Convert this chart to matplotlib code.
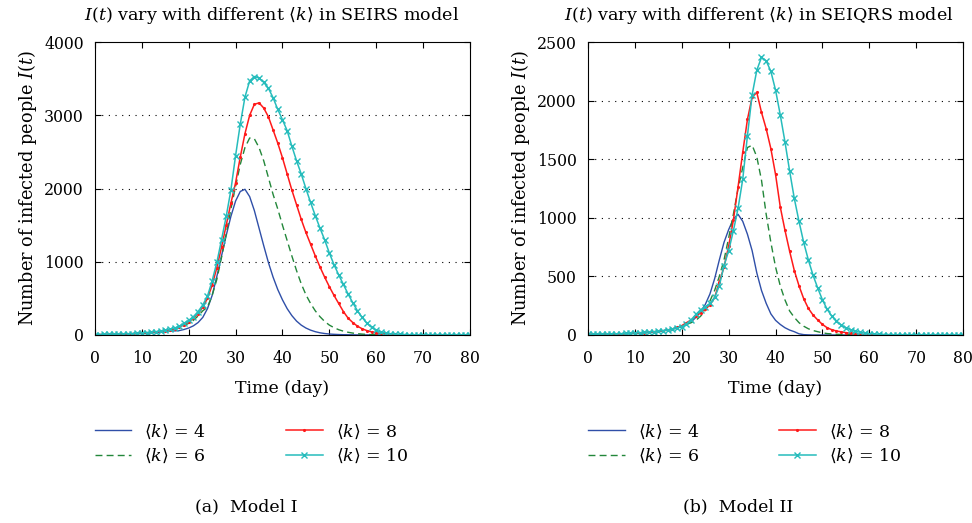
import matplotlib
matplotlib.use('Agg')
import matplotlib.pyplot as plt

plt.rcParams['font.family'] = ['DejaVu Serif']
plt.rcParams['mathtext.fontset'] = 'dejavuserif'

days = list(range(0, 81))

# Model I (SEIRS)
blue_l = [4, 5, 6, 7, 8, 10, 12, 14, 16, 19,
          22, 26, 30, 35, 40, 46, 52, 56, 60, 75,
          95, 125, 170, 240, 360, 540, 800, 1080, 1360, 1620,
          1830, 1960, 1990, 1890, 1700, 1460, 1220, 990, 790, 620,
          480, 360, 265, 190, 135, 95, 66, 45, 30, 20,
          13, 9, 6, 4, 3, 2, 1, 1, 1, 1,
          1, 1, 1, 1, 1, 1, 1, 1, 1, 1,
          0, 0, 0, 0, 0, 0, 0, 0, 0, 0,
          0]
green_l = [4, 5, 6, 7, 8, 10, 12, 14, 17, 20,
           24, 28, 33, 39, 46, 55, 66, 80, 100, 125,
           160, 200, 260, 330, 380, 540, 760, 1060, 1380, 1720,
           2030, 2330, 2560, 2690, 2680, 2560, 2380, 2150, 1920, 1720,
           1500, 1290, 1080, 880, 700, 550, 430, 330, 250, 185,
           135, 100, 72, 52, 37, 26, 18, 12, 8, 5,
           4, 3, 2, 2, 1, 1, 1, 1, 1, 1,
           1, 1, 0, 0, 0, 0, 0, 0, 0, 0,
           0]
red_l = [4, 5, 6, 8, 9, 11, 13, 15, 18, 21,
         25, 30, 35, 41, 49, 58, 70, 85, 110, 140,
         180, 230, 290, 380, 500, 680, 920, 1200, 1500, 1800,
         2080, 2430, 2750, 3000, 3150, 3170, 3100, 2980, 2800, 2620,
         2420, 2200, 1980, 1780, 1580, 1400, 1240, 1080, 930, 790,
         660, 540, 430, 320, 230, 170, 120, 85, 60, 42,
         30, 21, 15, 10, 7, 5, 3, 2, 2, 1,
         1, 1, 1, 1, 1, 0, 0, 0, 0, 0,
         0]
cyan_l = [5, 6, 7, 9, 10, 12, 14, 17, 20, 24,
          28, 33, 39, 45, 55, 65, 80, 95, 120, 160,
          200, 250, 320, 410, 530, 740, 990, 1300, 1620, 1980,
          2450, 2880, 3250, 3470, 3530, 3510, 3450, 3370, 3240, 3080,
          2940, 2790, 2580, 2380, 2200, 2000, 1810, 1630, 1460, 1300,
          1120, 960, 820, 690, 560, 440, 330, 240, 160, 105,
          65, 42, 27, 17, 11, 7, 5, 3, 2, 2,
          1, 1, 1, 1, 1, 1, 1, 1, 1, 1,
          1]

# Model II (SEIQRS)
blue_r = [4, 5, 5, 6, 7, 8, 9, 10, 12, 13,
          15, 17, 20, 23, 27, 31, 36, 42, 50, 60,
          70, 90, 112, 150, 200, 260, 350, 480, 640, 790,
          900, 990, 1030, 970, 860, 720, 530, 380, 270, 180,
          125, 90, 62, 42, 28, 10, 3, 1, 0, 0,
          0, 0, 0, 0, 0, 0, 0, 0, 0, 0,
          0, 0, 0, 0, 0, 0, 0, 0, 0, 0,
          0, 0, 0, 0, 0, 0, 0, 0, 0, 0,
          0]
green_r = [4, 5, 5, 6, 7, 8, 9, 10, 12, 13,
           15, 17, 20, 23, 27, 31, 36, 42, 50, 62,
           75, 90, 105, 125, 160, 210, 290, 380, 500, 640,
           830, 1030, 1250, 1430, 1600, 1620, 1520, 1321, 1030, 790,
           580, 420, 300, 205, 150, 105, 75, 53, 38, 28,
           19, 12, 9, 6, 4, 3, 2, 1, 1, 1,
           0, 0, 0, 0, 0, 0, 0, 0, 0, 0,
           0, 0, 0, 0, 0, 0, 0, 0, 0, 0,
           0]
red_r = [4, 5, 5, 6, 7, 8, 9, 10, 12, 13,
         15, 17, 20, 23, 27, 31, 36, 43, 52, 64,
         80, 105, 128, 160, 190, 220, 256, 320, 450, 580,
         760, 980, 1264, 1560, 1840, 2030, 2070, 1900, 1760, 1590,
         1370, 1094, 895, 715, 550, 420, 310, 227, 170, 128,
         90, 62, 45, 34, 27, 20, 14, 9, 6, 4,
         3, 2, 2, 1, 1, 1, 1, 1, 1, 1,
         0, 0, 0, 0, 0, 0, 0, 0, 0, 0,
         0]
cyan_r = [5, 5, 6, 7, 8, 9, 10, 11, 13, 15,
          17, 19, 22, 25, 28, 32, 37, 43, 50, 60,
          72, 95, 130, 175, 215, 240, 270, 320, 420, 590,
          720, 890, 1080, 1330, 1700, 2050, 2260, 2370, 2340, 2250,
          2090, 1880, 1650, 1400, 1165, 970, 790, 640, 510, 400,
          300, 220, 160, 120, 85, 62, 45, 32, 23, 16,
          11, 8, 6, 4, 3, 2, 2, 1, 1, 1,
          1, 1, 1, 1, 1, 1, 1, 1, 1, 1,
          1]

labels = [r'$\langle k\rangle$ = 4', r'$\langle k\rangle$ = 6',
          r'$\langle k\rangle$ = 8', r'$\langle k\rangle$ = 10']
titles = [r'$I(t)$ vary with different $\langle k\rangle$ in SEIRS model',
          r'$I(t)$ vary with different $\langle k\rangle$ in SEIQRS model']
captions = ['(a)  Model I', '(b)  Model II']
yticks_l = [0, 1000, 2000, 3000, 4000]
yticks_r = [0, 500, 1000, 1500, 2000, 2500]
xticks = [0, 10, 20, 30, 40, 50, 60, 70, 80]

fig = plt.figure(figsize=(9.72, 5.23), dpi=100)
ax1 = fig.add_axes([0.0977, 0.3595, 0.3858, 0.560])
ax2 = fig.add_axes([0.605, 0.3595, 0.3858, 0.560])

panels = [(ax1, [blue_l, green_l, red_l, cyan_l], yticks_l, 0.47),
          (ax2, [blue_r, green_r, red_r, cyan_r], yticks_r, 0.455)]

for i, (ax, series, yt, tx) in enumerate(panels):
    h1, = ax.plot(days, series[0], color='#2f4fa8', lw=1.0)
    h2, = ax.plot(days, series[1], color='#23873a', lw=1.0, ls=(0, (5, 3)))
    h3, = ax.plot(days, series[2], color='#ff1a1a', lw=1.1,
                  marker='.', ms=2.5)
    h4, = ax.plot(days, series[3], color='#26bcbc', lw=1.1,
                  marker='x', ms=4.5, mew=1.0)
    ax.set_xlim(0, 80)
    ax.set_ylim(0, yt[-1])
    ax.set_xticks(xticks)
    ax.set_yticks(yt)
    for y in yt[1:-1]:
        ax.axhline(y, color='black', lw=0.8, ls=(0, (1, 5)), zorder=0)
    ax.tick_params(direction='in', top=True, right=True, length=4,
                   width=0.8, labelsize=11.3)
    ax.tick_params(axis='x', pad=11)
    ax.tick_params(axis='y', pad=8)
    for sp in ax.spines.values():
        sp.set_linewidth(0.8)
    ax.set_title(titles[i], fontsize=12.6, pad=16, x=tx)
    ax.set_xlabel('Time (day)', fontsize=12.5, labelpad=9)
    ax.set_ylabel(r'Number of infected people $I(t)$', fontsize=12.8,
                  labelpad=4)
    ax.legend([h1, h2, h3, h4], labels, loc='upper left',
              bbox_to_anchor=(0.0, -0.298), ncol=2, frameon=False,
              borderaxespad=0, borderpad=0, handlelength=2.1,
              handletextpad=0.75, columnspacing=4.6, labelspacing=0.35,
              fontsize=12.5)

fig.text(0.253, 0.031, captions[0], ha='center', va='center', fontsize=12.5)
fig.text(0.759, 0.031, captions[1], ha='center', va='center', fontsize=12.5)

fig.savefig('out.png', dpi=100)
